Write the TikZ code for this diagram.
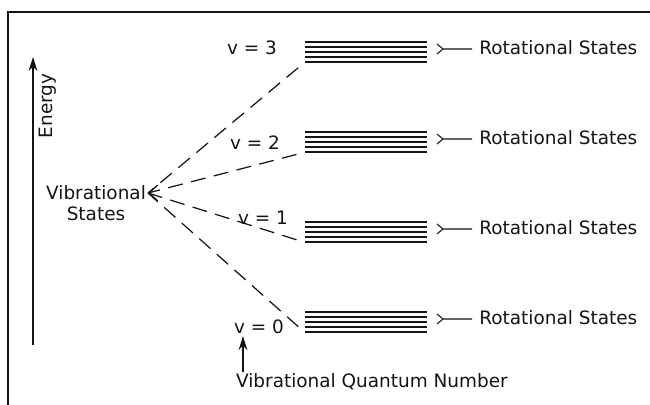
\documentclass[tikz,border=0pt]{standalone}
\usepackage{fontspec}
\setmainfont{DejaVu Sans}
\usetikzlibrary{positioning,arrows.meta,calc}
\definecolor{InkBlack}{RGB}{20,20,20}

\begin{document}
\begin{tikzpicture}[x=0.02cm, y=-0.02cm, font=\fontsize{10.5}{12.6}\selectfont,
    every node/.style={align=center, text=InkBlack, inner sep=1pt},
    levelline/.style={line width=0.85pt, InkBlack},
    vibline/.style={line width=0.7pt, InkBlack, dash pattern=on 0.3cm off 0.17cm},
    rotline/.style={line width=0.6pt, InkBlack},
    uparrow/.style={line width=0.9pt, InkBlack, -{Stealth[length=8pt, width=5pt]}}]
  \useasboundingbox (0,0) rectangle (650,405);
  % open frame, top and left only
  \draw[line width=1.1pt, InkBlack] (650,12) -- (8,12) -- (8,405);
  % energy axis
  \coordinate (ebot) at (33,345);
  \coordinate (etop) at (33,57);
  \draw[uparrow] (ebot) -- (etop);
  \node[rotate=90] (energy) at (48,106) {Energy};
  % vibrational states label
  \node (vib) at (96,203) {Vibrational\\[-1pt]States};
  \coordinate (vtip) at (148,193);
  \draw[line width=0.7pt, InkBlack, -{Straight Barb[length=5pt, width=9pt]}]
       ($(vtip)+(2,0)$) -- (vtip);
  % stacks of levels
  \foreach \v/\y in {3/42, 2/132, 1/222, 0/312} {
    \foreach \k in {0,...,4}
      \draw[levelline] (305,\y+5*\k) -- (427,\y+5*\k);
    \node[minimum width=2.44cm, minimum height=0.4cm, inner sep=0pt] (lev\v) at (366,\y+10) {};
    \coordinate (brk\v) at (443,\y+7);
    \node[anchor=west, inner xsep=4pt] (rot\v) at (472,\y+6) {Rotational States};
    \draw[rotline] (rot\v.west |- brk\v) -- (brk\v) -- ++(-6,-5) (brk\v) -- ++(-6,5);
    \draw[vibline, shorten <=0.17cm] (lev\v.south west) -- (vtip);
  }
  % quantum number labels
  \node (v3) at (252,48) {v = 3};
  \node (v2) at (255,143) {v = 2};
  \node (v1) at (263,218) {v = 1};
  \node (v0) at (259,327) {v = 0};
  \node[anchor=west] (qn) at (234,382) {Vibrational Quantum Number};
  \coordinate (qtail) at ($(qn.north west)+(9,0)$);
  \coordinate (qhead) at (qtail |- v0.south);
  \draw[uparrow] (qtail) -- (qhead);
\end{tikzpicture}
\end{document}
